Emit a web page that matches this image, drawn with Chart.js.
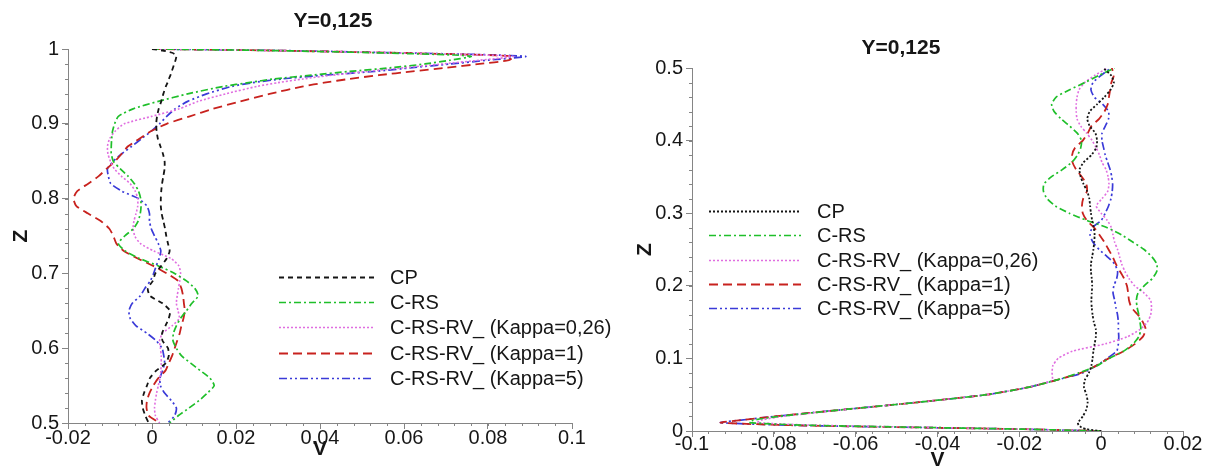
<!DOCTYPE html>
<html>
<head>
<meta charset="utf-8">
<script src="https://cdn.jsdelivr.net/npm/chart.js@4.4.1/dist/chart.umd.min.js"></script>
<style>
  body { margin: 0; background: #fff; width: 1210px; height: 468px; overflow: hidden; position: relative; }
  #leftBox { position: absolute; left: 0; top: 0; width: 640px; height: 468px; }
  #rightBox { position: absolute; left: 605px; top: 0; width: 605px; height: 468px; }
</style>
</head>
<body>
<div id="leftBox"><canvas id="chartLeft" width="640" height="468"></canvas></div>
<div id="rightBox"><canvas id="chartRight" width="605" height="468"></canvas></div>
<script>
// series names (same in both panels)
var seriesNames = ['CP', 'C-RS', 'C-RS-RV_ (Kappa=0,26)', 'C-RS-RV_ (Kappa=1)', 'C-RS-RV_ (Kappa=5)'];

// left panel: Z levels (upper half) and V profiles
var zLeft = [1.0, 0.998, 0.995, 0.992, 0.99, 0.985, 0.98, 0.975, 0.97, 0.965, 0.96, 0.955, 0.95,
  0.94, 0.93, 0.92, 0.91, 0.90, 0.89, 0.88, 0.87, 0.86, 0.85, 0.84, 0.83, 0.82, 0.81, 0.80,
  0.79, 0.78, 0.77, 0.76, 0.75, 0.74, 0.73, 0.72, 0.71, 0.70,
  0.69, 0.68, 0.67, 0.66, 0.65, 0.64, 0.63, 0.62, 0.61, 0.60,
  0.59, 0.58, 0.57, 0.56, 0.55, 0.54, 0.53, 0.52, 0.51, 0.50];
var vCpLeft = [0, 0.0025, 0.0048, 0.0057, 0.0058, 0.0056, 0.0053, 0.005, 0.0047, 0.0044, 0.004, 0.0037, 0.0033,
  0.0027, 0.0022, 0.0016, 0.0012, 0.001, 0.0011, 0.0014, 0.002, 0.0026, 0.003, 0.003, 0.0027, 0.0024, 0.0022, 0.0021,
  0.0021, 0.0023, 0.0027, 0.0031, 0.0034, 0.0038, 0.0042, 0.0035, 0.0022, 0.0008,
  0.0002, -0.001, -0.0005, 0.0025, 0.0043, 0.004, 0.0032, 0.0024, 0.0025, 0.0038,
  0.004, 0.0033, 0.001, -0.0005, -0.0012, -0.0019, -0.0024, -0.0022, -0.0016, -0.0008];
var vCrsLeft = [0, 0.028, 0.053, 0.072, 0.076, 0.071, 0.065, 0.057, 0.047, 0.038, 0.029, 0.023, 0.017,
  0.0085, 0.0015, -0.0045, -0.008, -0.0089, -0.0094, -0.0096, -0.0097, -0.0097, -0.0092, -0.0076, -0.0057, -0.0042, -0.0032, -0.0027,
  -0.0026, -0.0028, -0.0033, -0.0044, -0.0065, -0.008, -0.0064, -0.003, 0.0015, 0.0054,
  0.0082, 0.0102, 0.011, 0.0095, 0.0082, 0.0068, 0.0058, 0.0051, 0.005, 0.0058,
  0.007, 0.0092, 0.0115, 0.0138, 0.0148, 0.0132, 0.0112, 0.0088, 0.0063, 0.0042];
var vK026Left = [0, 0.029, 0.056, 0.079, 0.086, 0.078, 0.069, 0.060, 0.051, 0.043, 0.036, 0.030, 0.025,
  0.0175, 0.011, 0.0065, 0.0, -0.0066, -0.0088, -0.0101, -0.0106, -0.0105, -0.0099, -0.009, -0.0073, -0.0052, -0.004, -0.0034,
  -0.0034, -0.0038, -0.0043, -0.0045, -0.0041, -0.0028, 0.0004, 0.0045, 0.0064, 0.0068,
  0.0066, 0.0063, 0.006, 0.0058, 0.0062, 0.0065, 0.0048, 0.0025, 0.0018, 0.002,
  0.0022, 0.0022, 0.0021, 0.0019, 0.0015, 0.0011, 0.0008, 0.0006, 0.0008, 0.0018];
var vK1Left = [0, 0.029, 0.057, 0.079, 0.086, 0.085, 0.078, 0.070, 0.062, 0.054, 0.047, 0.041, 0.036,
  0.028, 0.021, 0.0145, 0.009, 0.0035, -0.0003, -0.003, -0.0057, -0.0072, -0.0088, -0.0108, -0.0127, -0.0152, -0.0178, -0.0187,
  -0.018, -0.0152, -0.0122, -0.0102, -0.0092, -0.0085, -0.0067, -0.0034, 0.0003, 0.0035,
  0.0062, 0.007, 0.0074, 0.0076, 0.0078, 0.0075, 0.007, 0.0066, 0.006, 0.0054,
  0.0048, 0.004, 0.0032, 0.0015, 0.0003, -0.0006, -0.0012, -0.0013, -0.0008, 0.0018];
var vK5Left = [0, 0.030, 0.058, 0.082, 0.089, 0.080, 0.071, 0.062, 0.053, 0.041, 0.031, 0.024, 0.019,
  0.013, 0.0085, 0.0055, 0.0035, 0.0018, -0.0002, -0.0025, -0.0048, -0.0072, -0.0092, -0.0106, -0.0104, -0.0098, -0.0072, -0.0032,
  -0.0012, -0.0006, -0.0006, -0.0002, 0.0006, 0.0015, 0.0021, 0.0017, 0.001, 0.0004,
  -0.0004, -0.0017, -0.0028, -0.0047, -0.0055, -0.0052, -0.0038, -0.0012, 0.001, 0.0024,
  0.0028, 0.003, 0.0025, 0.0019, 0.002, 0.003, 0.0046, 0.0058, 0.0054, 0.0038];

// right panel: Z levels (lower half) and V profiles
var zRight = [0, 0.0025, 0.005, 0.008, 0.0115, 0.015, 0.02, 0.03, 0.04, 0.05, 0.06, 0.07,
  0.08, 0.09, 0.10, 0.11, 0.12, 0.13, 0.14, 0.15, 0.16, 0.17, 0.18, 0.19, 0.20,
  0.21, 0.22, 0.23, 0.24, 0.25, 0.26, 0.27, 0.28, 0.29, 0.30,
  0.31, 0.32, 0.33, 0.34, 0.35, 0.36, 0.37, 0.38, 0.39, 0.40,
  0.41, 0.42, 0.43, 0.44, 0.45, 0.46, 0.47, 0.48, 0.49, 0.50];
var vCpRight = [0, -0.0035, -0.0048, -0.0055, -0.0057, -0.0052, -0.0045, -0.0036, -0.0033, -0.0036, -0.0042, -0.004,
  -0.003, -0.0024, -0.0021, -0.0019, -0.0016, -0.0013, -0.0013, -0.0018, -0.0021, -0.0023, -0.0024, -0.0023, -0.0022,
  -0.0023, -0.0025, -0.0025, -0.0022, -0.0019, -0.0017, -0.0016, -0.0018, -0.0022, -0.0025,
  -0.0027, -0.0029, -0.0034, -0.0043, -0.005, -0.0053, -0.0043, -0.0024, -0.0012, -0.001,
  -0.0014, -0.0028, -0.0034, -0.0028, -0.001, 0.0008, 0.0023, 0.0031, 0.0024, 0.0005];
var vCrsRight = [0, -0.019, -0.044, -0.072, -0.086, -0.085, -0.079, -0.062, -0.044, -0.028, -0.018, -0.011,
  -0.0055, -0.001, 0.002, 0.0055, 0.0078, 0.0092, 0.0097, 0.0095, 0.0092, 0.0088, 0.0086, 0.009, 0.0105,
  0.0125, 0.0136, 0.0136, 0.0124, 0.0105, 0.0078, 0.005, 0.0015, -0.0035, -0.0078,
  -0.0112, -0.0132, -0.0141, -0.014, -0.0122, -0.0095, -0.0072, -0.0058, -0.005, -0.0048,
  -0.0058, -0.0077, -0.0098, -0.0115, -0.0121, -0.011, -0.0077, -0.004, -0.0005, 0.0033];
var vK026Right = [0, -0.019, -0.043, -0.070, -0.084, -0.083, -0.078, -0.062, -0.044, -0.028, -0.018, -0.012,
  -0.012, -0.0118, -0.0105, -0.007, 0.001, 0.0065, 0.0095, 0.0113, 0.0121, 0.0123, 0.0121, 0.0105, 0.0082,
  0.0068, 0.0058, 0.005, 0.0045, 0.004, 0.0033, 0.0029, 0.0025, 0.0015, 0.0,
  -0.0012, 0.0002, 0.0016, 0.0019, 0.0017, 0.0012, 0.0002, -0.0004, -0.0012, -0.0022,
  -0.0035, -0.005, -0.0059, -0.0061, -0.0061, -0.0059, -0.0054, -0.004, -0.0015, 0.0015];
var vK1Right = [0, -0.019, -0.046, -0.076, -0.093, -0.088, -0.080, -0.062, -0.044, -0.028, -0.018, -0.011,
  -0.005, -0.0012, 0.0018, 0.0055, 0.0083, 0.0102, 0.0109, 0.0102, 0.009, 0.0074, 0.0068, 0.0066, 0.0063,
  0.0056, 0.0046, 0.0036, 0.0028, 0.0018, 0.0008, -0.0004, -0.0017, -0.0035, -0.0045,
  -0.0047, -0.0044, -0.0035, -0.0036, -0.0047, -0.0061, -0.007, -0.0071, -0.0064, -0.0045,
  -0.0033, -0.0024, -0.0005, 0.0008, 0.0016, 0.0019, 0.0022, 0.0025, 0.0031, 0.0026];
var vK5Right = [0, -0.019, -0.046, -0.076, -0.093, -0.088, -0.080, -0.062, -0.044, -0.028, -0.018, -0.011,
  -0.0045, -0.0012, 0.0015, 0.0038, 0.0042, 0.0043, 0.0042, 0.0042, 0.004, 0.0036, 0.0033, 0.0029, 0.0031,
  0.0038, 0.004, 0.0033, 0.0015, -0.0005, -0.002, -0.0027, -0.0022, 0, 0.001,
  0.0018, 0.0024, 0.0027, 0.0028, 0.0026, 0.0022, 0.0016, 0.001, 0.0006, 0.0002,
  0.0002, 0.001, 0.0018, 0.0018, 0.0004, -0.0017, -0.0025, -0.002, 0, 0.0024];

// axis ranges [min, max, major step, minor step]
var vAxisLeft = [-0.02, 0.1, 0.02, 0.004];
var zAxisLeft = [0.5, 1, 0.1, 0.02];
var vAxisRight = [-0.1, 0.02, 0.02, 0.004];
var zAxisRight = [0, 0.5, 0.1, 0.02];

var FONT = '"Liberation Sans", Arial, Helvetica, sans-serif';
var axisGray = '#858585';
var textCol = '#161616';

// draws "Y=0,125" at a fixed spot
var panelTitle = {
  id: 'panelTitle',
  afterDraw: function (chart, args, opts) {
    var ctx = chart.ctx;
    ctx.save();
    ctx.font = 'bold 21px ' + FONT;
    ctx.fillStyle = textCol;
    ctx.textAlign = 'center';
    ctx.textBaseline = 'middle';
    ctx.fillText(opts.text, opts.x, opts.y);
    ctx.restore();
  }
};

// short minor ticks between the labelled ones
var minorTicks = {
  id: 'minorTicks',
  afterDraw: function (chart, args, opts) {
    var ctx = chart.ctx, x = chart.scales.x, y = chart.scales.y;
    ctx.save();
    ctx.strokeStyle = axisGray;
    ctx.lineWidth = 1;
    ctx.beginPath();
    var n = Math.round((x.max - x.min) / opts.xStep);
    for (var i = 0; i <= n; i++) {
      var px = Math.round(x.getPixelForValue(x.min + i * opts.xStep)) + 0.5;
      ctx.moveTo(px, x.top);
      ctx.lineTo(px, x.top + 3);
    }
    n = Math.round((y.max - y.min) / opts.yStep);
    for (var j = 0; j <= n; j++) {
      var py = Math.round(y.getPixelForValue(y.min + j * opts.yStep)) + 0.5;
      ctx.moveTo(y.right, py);
      ctx.lineTo(y.right - 3, py);
    }
    ctx.stroke();
    ctx.restore();
  }
};

// legend with long line samples, drawn inside the plot
var lineLegend = {
  id: 'lineLegend',
  afterDraw: function (chart, args, opts) {
    var ctx = chart.ctx;
    ctx.save();
    ctx.font = '20px ' + FONT;
    ctx.textBaseline = 'middle';
    ctx.textAlign = 'left';
    chart.data.datasets.forEach(function (ds, i) {
      var yy = Math.round(opts.top + i * opts.rowGap) + 0.5;
      ctx.strokeStyle = ds.borderColor;
      ctx.lineWidth = ds.borderWidth;
      ctx.setLineDash(ds.borderDash || []);
      ctx.beginPath();
      ctx.moveTo(opts.left, yy);
      ctx.lineTo(opts.left + opts.lineLen, yy);
      ctx.stroke();
      ctx.setLineDash([]);
      ctx.fillStyle = textCol;
      ctx.fillText(ds.label, opts.left + opts.lineLen + opts.gap, yy + 1);
    });
    ctx.restore();
  }
};

function points(zs, vs) {
  return zs.map(function (z, i) { return { x: vs[i], y: z }; });
}

function makeSets(zs, vLists, cpDash) {
  var colors = ['#151515', '#1fbf2a', '#e06ee0', '#c8221e', '#3a3ad8'];
  var dashes = [cpDash, [7, 3, 2, 3], [2, 2], [9, 5], [8, 3, 2, 3, 2, 3]];
  var widths = [1.8, 1.7, 1.6, 1.8, 1.7];
  return vLists.map(function (vs, i) {
    return {
      label: seriesNames[i],
      data: points(zs, vs),
      showLine: true,
      borderColor: colors[i],
      backgroundColor: colors[i],
      borderWidth: widths[i],
      borderDash: dashes[i],
      pointRadius: 0,
      tension: 0.2
    };
  });
}

function labelFmt(v) { return String(Math.round(v * 1000) / 1000); }

function makeOptions(c) {
  return {
    responsive: false,
    animation: false,
    events: [],
    layout: { autoPadding: false, padding: { left: 0, top: c.padTop, right: c.padRight, bottom: 0 } },
    plugins: {
      legend: { display: false },
      tooltip: { enabled: false },
      panelTitle: c.title,
      minorTicks: { xStep: c.vAxis[3], yStep: c.zAxis[3] },
      lineLegend: c.legend
    },
    scales: {
      x: {
        type: 'linear', min: c.vAxis[0], max: c.vAxis[1],
        ticks: { stepSize: c.vAxis[2], callback: labelFmt, color: textCol, padding: c.xTickPad,
          font: { family: FONT, size: 20, lineHeight: 1.2 }, maxRotation: 0, autoSkip: false },
        grid: { drawOnChartArea: false, drawTicks: true, tickLength: 6, tickColor: axisGray, color: axisGray },
        border: { display: true, color: axisGray, width: 1 },
        title: { display: true, text: 'V', color: textCol, font: { family: FONT, size: 21, weight: 'bold', lineHeight: 1.2 },
          padding: { top: 0, bottom: c.vTitlePad } },
        afterFit: function (s) { s.height = c.xAxisH; }
      },
      y: {
        type: 'linear', min: c.zAxis[0], max: c.zAxis[1],
        ticks: { stepSize: c.zAxis[2], callback: labelFmt, color: textCol, padding: 3,
          font: { family: FONT, size: 20, lineHeight: 1.2 }, autoSkip: false },
        grid: { drawOnChartArea: false, drawTicks: true, tickLength: 6, tickColor: axisGray, color: axisGray },
        border: { display: true, color: axisGray, width: 1 },
        title: { display: true, text: 'Z', color: textCol, font: { family: FONT, size: 21, weight: 'bold', lineHeight: 1.2 },
          padding: { top: c.zTitlePad, bottom: 0 } },
        afterFit: function (s) { s.width = c.yAxisW; }
      }
    }
  };
}

var leftChart = new Chart(document.getElementById('chartLeft'), {
  type: 'scatter',
  data: { datasets: makeSets(zLeft, [vCpLeft, vCrsLeft, vK026Left, vK1Left, vK5Left], [5, 4]) },
  options: makeOptions({
    padTop: 49, padRight: 68, yAxisW: 68, xAxisH: 45, xTickPad: -3, vTitlePad: 6, zTitlePad: 9,
    vAxis: vAxisLeft, zAxis: zAxisLeft,
    title: { text: 'Y=0,125', x: 333, y: 21 },
    legend: { left: 279, top: 277, lineLen: 95, gap: 16, rowGap: 25.2 }
  }),
  plugins: [panelTitle, minorTicks, lineLegend]
});

var rightChart = new Chart(document.getElementById('chartRight'), {
  type: 'scatter',
  data: { datasets: makeSets(zRight, [vCpRight, vCrsRight, vK026Right, vK1Right, vK5Right], [2, 2]) },
  options: makeOptions({
    padTop: 68, padRight: 27, yAxisW: 87, xAxisH: 37, xTickPad: -5, vTitlePad: -5, zTitlePad: 28,
    vAxis: vAxisRight, zAxis: zAxisRight,
    title: { text: 'Y=0,125', x: 296, y: 48 },
    legend: { left: 104, top: 211, lineLen: 92, gap: 16, rowGap: 24.3 }
  }),
  plugins: [panelTitle, minorTicks, lineLegend]
});
</script>
</body>
</html>
